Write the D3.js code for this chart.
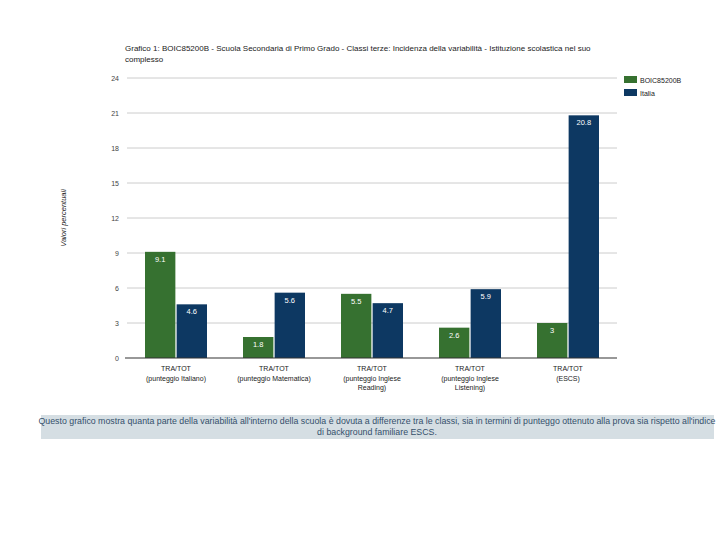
<!DOCTYPE html>
<html>
<head>
<meta charset="utf-8">
<script src="https://cdn.jsdelivr.net/npm/d3@7"></script>
<style>
  body { margin: 0; background: #fff; }
  svg { font-family: "Liberation Sans", Arial, sans-serif; }
</style>
</head>
<body>
<svg id="chart" width="720" height="540"></svg>
<script>
// chart data
const categories = ["ita", "mat", "read", "list", "escs"];
const catLabels = [
    ["TRA/TOT", "(punteggio Italiano)"],
    ["TRA/TOT", "(punteggio Matematica)"],
    ["TRA/TOT", "(punteggio Inglese", "Reading)"],
    ["TRA/TOT", "(punteggio Inglese", "Listening)"],
    ["TRA/TOT", "(ESCS)"]
];
const seriesNames = ["BOIC85200B", "Italia"];
const schoolValues = [9.1, 1.8, 5.5, 2.6, 3];
const italiaValues = [4.6, 5.6, 4.7, 5.9, 20.8];
const valueLabels = [
    ["9.1", "1.8", "5.5", "2.6", "3"],
    ["4.6", "5.6", "4.7", "5.9", "20.8"]
];
const yTicks = [0, 3, 6, 9, 12, 15, 18, 21, 24];
const seriesColors = ["#367130", "#0d3862"];

const titleLines = [
    "Grafico 1: BOIC85200B - Scuola Secondaria di Primo Grado - Classi terze: Incidenza della variabilità - Istituzione scolastica nel suo",
    "complesso"
];
const captionLines = [
    "Questo grafico mostra quanta parte della variabilità all'interno della scuola è dovuta a differenze tra le classi, sia in termini di punteggo ottenuto alla prova sia rispetto all'indice",
    "di background familiare ESCS."
];

const svg = d3.select("#chart");
const plotLeft = 127, plotRight = 617, plotTop = 78, plotBottom = 358;

const X = d3.scaleBand().domain(categories).range([plotLeft, plotRight]);
const Xs = d3.scaleBand().domain([0, 1]).range([0, 62]).paddingInner(0.04);
const Y = d3.scaleLinear().domain([0, 24]).range([plotBottom, plotTop]);

// title
svg.append("g").selectAll("text")
    .data(titleLines)
    .enter().append("text")
    .attr("x", 125)
    .attr("y", (d, i) => 51 + i * 11)
    .attr("font-size", 8)
    .attr("fill", "#222")
    .text(d => d);

// gridlines
svg.append("g").selectAll("line")
    .data(yTicks.filter(t => t > 0))
    .enter().append("line")
    .attr("x1", plotLeft).attr("x2", plotRight)
    .attr("y1", d => Y(d)).attr("y2", d => Y(d))
    .attr("stroke", "#cccccc").attr("stroke-width", 1);

// y tick labels
svg.append("g").selectAll("text")
    .data(yTicks)
    .enter().append("text")
    .attr("x", 119)
    .attr("y", d => Y(d) + 2.5)
    .attr("text-anchor", "end")
    .attr("font-size", 7)
    .attr("fill", "#444")
    .text(d => d);

// y axis title
svg.append("text")
    .attr("transform", "translate(66,218) rotate(-90)")
    .attr("text-anchor", "middle")
    .attr("font-size", 7.5)
    .attr("font-style", "italic")
    .attr("fill", "#222")
    .text("Valori percentuali");

// bars
const series = [schoolValues, italiaValues];
series.forEach(function (vals, s) {
    const g = svg.append("g");
    g.selectAll("rect")
        .data(categories)
        .enter().append("rect")
        .attr("x", (c) => X(c) + (X.bandwidth() - 62) / 2 + Xs(s))
        .attr("y", (c, i) => Y(vals[i]))
        .attr("width", Xs.bandwidth())
        .attr("height", (c, i) => plotBottom - Y(vals[i]))
        .attr("fill", seriesColors[s]);
    g.selectAll("text")
        .data(categories)
        .enter().append("text")
        .attr("x", (c) => X(c) + (X.bandwidth() - 62) / 2 + Xs(s) + Xs.bandwidth() / 2)
        .attr("y", (c, i) => Y(vals[i]) + 10)
        .attr("text-anchor", "middle")
        .attr("font-size", 7.5)
        .attr("fill", "#ffffff")
        .text((c, i) => valueLabels[s][i]);
});

// baseline
svg.append("line")
    .attr("x1", plotLeft - 2).attr("x2", plotRight)
    .attr("y1", plotBottom).attr("y2", plotBottom)
    .attr("stroke", "#333").attr("stroke-width", 1.2);

// category labels
const catG = svg.append("g").selectAll("text")
    .data(categories)
    .enter().append("text")
    .attr("text-anchor", "middle")
    .attr("font-size", 7)
    .attr("fill", "#222");
catG.each(function (c, i) {
    d3.select(this).selectAll("tspan")
        .data(catLabels[i])
        .enter().append("tspan")
        .attr("x", X(c) + X.bandwidth() / 2)
        .attr("y", (d, j) => 371 + j * 9.5)
        .text(d => d);
});

// legend
const legend = svg.append("g").selectAll("g")
    .data(seriesNames)
    .enter().append("g")
    .attr("transform", (d, i) => `translate(624,${76 + i * 13})`);
legend.append("rect")
    .attr("width", 13).attr("height", 7)
    .attr("fill", (d, i) => seriesColors[i]);
legend.append("text")
    .attr("x", 16).attr("y", 6.5)
    .attr("font-size", 7)
    .attr("fill", "#222")
    .text(d => d);

// caption box
svg.append("rect")
    .attr("x", 41).attr("y", 415)
    .attr("width", 673).attr("height", 24)
    .attr("fill", "#d5dee3");
svg.append("g").selectAll("text")
    .data(captionLines)
    .enter().append("text")
    .attr("x", 377)
    .attr("y", (d, i) => 424 + i * 10.5)
    .attr("text-anchor", "middle")
    .attr("font-size", 8.8)
    .attr("fill", "#34506b")
    .text(d => d);
</script>
</body>
</html>
